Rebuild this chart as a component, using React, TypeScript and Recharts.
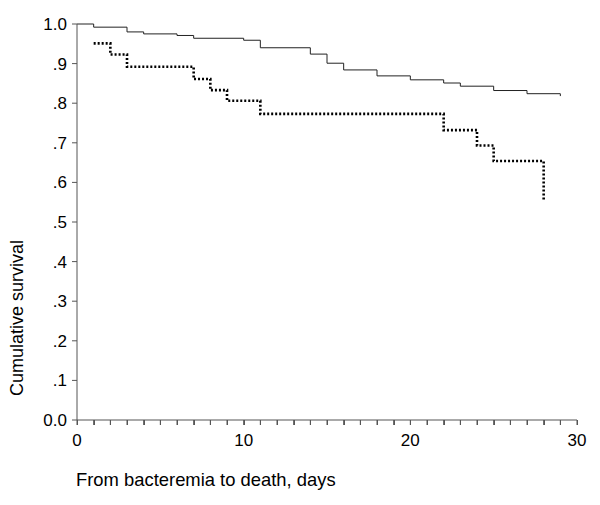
import React from "react";
import { LineChart, Line, XAxis, YAxis, Label } from "recharts";

// Group 1 (solid): Kaplan-Meier steps
const solidDays = [0, 1, 3, 4, 6, 7, 10, 11, 14, 15, 16, 18, 20, 22, 23, 25, 27, 29, 29];
const solidSurvival = [1.0, 0.992, 0.98, 0.975, 0.971, 0.964, 0.959, 0.94, 0.924, 0.901, 0.884, 0.869, 0.859, 0.851, 0.843, 0.832, 0.824, 0.824, 0.818];

// Group 2 (dotted)
const dottedDays = [1, 2, 3, 7, 8, 9, 11, 22, 24, 25, 28, 28];
const dottedSurvival = [0.951, 0.923, 0.892, 0.861, 0.833, 0.806, 0.773, 0.732, 0.693, 0.654, 0.654, 0.557];

const yTicks = [0, 0.1, 0.2, 0.3, 0.4, 0.5, 0.6, 0.7, 0.8, 0.9, 1.0];
const xTicks = Array.from({ length: 31 }, (_, i) => i);
const xMajorLabels = [0, 10, 20, 30];

const xLabelText = "From bacteremia to death, days";
const yLabelText = "Cumulative survival";

const solidData = solidDays.map((d, i) => ({ day: d, s: solidSurvival[i] }));
const dottedData = dottedDays.map((d, i) => ({ day: d, s: dottedSurvival[i] }));

const FONT = '"Liberation Sans", Arial, sans-serif';
const AXIS = "#555";

const fmtY = (v: number) => {
  if (v === 0) return "0.0";
  if (v >= 0.999) return "1.0";
  return "." + Math.round(v * 10);
};

const XTick = (props: any) => {
  const { x, y, payload } = props;
  const v = payload.value;
  return (
    <g>
      <rect x={Math.round(x)} y={y - 7} width={1} height={5} fill={AXIS} />
      {xMajorLabels.includes(v) && (
        <text x={x} y={y + 19} textAnchor="middle" fontSize={17} fontFamily={FONT} fill="#000">
          {v}
        </text>
      )}
    </g>
  );
};

export default function App() {
  return (
    <div style={{ position: "absolute", left: 0, top: 0, width: 600, height: 505, background: "#fff" }}>
      <LineChart
        width={600}
        height={505}
        margin={{ top: 24, right: 23, left: 0, bottom: 0 }}
      >
        <XAxis
          type="number"
          dataKey="day"
          domain={[0, 30]}
          ticks={xTicks}
          interval={0}
          tick={<XTick />}
          tickLine={{ stroke: AXIS }}
          tickSize={5}
          tickMargin={2}
          stroke={AXIS}
          height={85}
          allowDuplicatedCategory={false}
        >
          <Label
            content={() => (
              <text x={76} y={486} fontSize={18.4} fontFamily={FONT} fill="#000">
                {xLabelText}
              </text>
            )}
          />
        </XAxis>
        <YAxis
          type="number"
          domain={[0, 1]}
          ticks={yTicks}
          interval={0}
          width={77}
          tickFormatter={fmtY}
          tickSize={5}
          tickMargin={5}
          stroke={AXIS}
          tick={{ fill: "#000", fontSize: 17, fontFamily: FONT }}
        >
          <Label
            content={() => (
              <text
                x={23}
                y={318}
                transform="rotate(-90 23 318)"
                textAnchor="middle"
                fontSize={18}
                fontFamily={FONT}
                fill="#000"
              >
                {yLabelText}
              </text>
            )}
          />
        </YAxis>
        <Line
          data={solidData}
          dataKey="s"
          type="stepAfter"
          stroke="#222"
          strokeWidth={1}
          dot={false}
          isAnimationActive={false}
        />
        <Line
          data={dottedData}
          dataKey="s"
          type="stepAfter"
          stroke="#000"
          strokeWidth={2.6}
          strokeDasharray="2 2"
          dot={false}
          isAnimationActive={false}
        />
      </LineChart>
    </div>
  );
}
